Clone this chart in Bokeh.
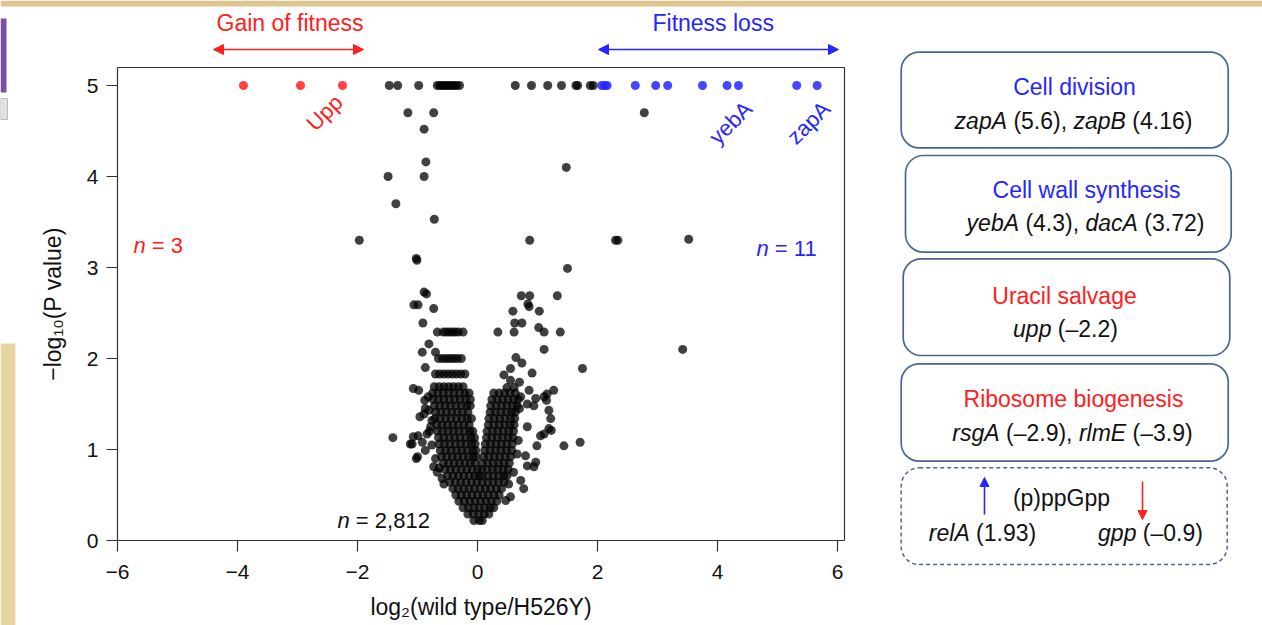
from bokeh.plotting import figure
from bokeh.models import Range1d, FixedTicker, Arrow, NormalHead, BoxAnnotation
from bokeh.core.properties import value
from bokeh.embed import file_html
from bokeh.resources import INLINE

FONT = "Liberation Sans"
RED = "#ff2020"
BLUE = "#2626ff"
BOXC = "#4b6693"
INK = "#111111"

# ---------------- data ----------------
x_ticks = [-6, -4, -2, 0, 2, 4, 6]
x_tick_labels = ["\u22126", "\u22124", "\u22122", "0", "2", "4", "6"]
y_ticks = [0, 1, 2, 3, 4, 5]

# significant genes (capped at -log10 P = 5)
gain_x = [-3.9, -2.95, -2.25]
gain_y = [5, 5, 5]
loss_x = [2.07, 2.12, 2.16, 2.63, 2.97, 3.17, 3.75, 4.16, 4.35, 5.32, 5.66]
loss_y = [5, 5, 5, 5, 5, 5, 5, 5, 5, 5, 5]

# other genes at the cap
cap_black_x = [-1.47, -1.33, -0.98, -0.67, -0.63, -0.59, -0.55, -0.51, -0.47, -0.43,
               -0.39, -0.35, -0.30, 0.63, 0.90, 1.17, 1.40, 1.64, 1.67, 1.88, 1.93]

# scattered genes (x, y)
scatter_pts = [
    (-1.16, 4.70), (-0.73, 4.70), (-0.89, 4.52), (-0.86, 4.16), (-1.49, 4.00), (-0.89, 4.00),
    (-1.36, 3.70), (-0.72, 3.53), (-1.97, 3.30), (0.87, 3.30), (2.30, 3.30), (2.34, 3.30),
    (1.48, 4.10), (2.78, 4.70), (-1.02, 3.10), (-1.01, 3.08), (1.50, 2.99), (3.52, 3.31),
    (3.42, 2.10),
    (-0.89, 2.73), (-0.85, 2.71), (-1.06, 2.59), (-0.99, 2.59), (-0.73, 2.55), (-0.91, 2.39),
    (0.34, 2.29), (0.61, 2.29), (1.11, 2.29), (1.38, 2.29),
    (0.73, 2.69), (0.87, 2.69), (0.84, 2.60), (0.86, 2.57), (1.33, 2.69), (0.59, 2.52),
    (1.03, 2.52), (0.62, 2.39), (0.74, 2.39), (1.02, 2.34),
    (-0.81, 2.16), (-0.92, 2.07), (-0.70, 2.07), (1.11, 2.10), (0.64, 2.01), (0.74, 1.95),
    (-0.87, 1.90), (1.75, 1.89), (0.44, 1.82), (0.55, 1.89), (0.91, 1.84), (0.55, 1.76),
    (0.70, 1.74), (0.49, 1.68), (0.61, 1.68),
    (0.86, 1.65), (0.97, 1.56), (1.16, 1.61), (1.27, 1.65), (1.11, 1.58), (0.83, 1.50),
    (-1.07, 1.67), (-0.98, 1.65), (-0.87, 1.45), (-1.41, 1.13), (-1.07, 1.14), (-0.99, 1.15),
    (-1.09, 1.06), (-0.92, 1.08), (-0.87, 0.99), (-1.02, 0.90), (-0.84, 1.17), (-0.78, 1.25),
    (-0.89, 1.39), (-0.81, 1.43), (-0.76, 1.32), (-0.73, 0.81), (-0.67, 0.75), (-0.59, 0.68),
    (-0.56, 0.62), (-0.96, 1.36), (-0.88, 1.54), (-1.12, 1.06), (-1.00, 0.92),
    (0.83, 1.25), (0.94, 1.48), (1.15, 1.54), (1.19, 1.43), (1.22, 1.34), (1.19, 1.23),
    (1.05, 1.15), (1.11, 1.17), (0.99, 1.04), (0.80, 0.93), (0.83, 0.82), (0.97, 0.86),
    (0.94, 0.81), (0.72, 0.66), (0.77, 0.57), (0.55, 0.48), (0.47, 0.44), (1.44, 1.04),
    (1.71, 1.08), (1.23, 1.21),
    (-0.82, 1.58), (-0.80, 1.20), (-0.76, 1.05), (-0.70, 0.90), (-0.64, 0.80),
    (0.72, 1.58), (0.70, 1.45), (0.68, 1.10), (0.66, 0.95), (0.60, 0.75), (0.52, 0.62),
]

# dense core of the volcano, read row by row: (y, [x ...])
cloud_rows = [
    (2.29, [-0.67, -0.57, -0.52, -0.47, -0.42, -0.37, -0.32, -0.24]),
    (2.00, [-0.65, -0.58, -0.52, -0.46, -0.40, -0.34, -0.27]),
    (1.83, [-0.70, -0.63, -0.56, -0.49, -0.42, -0.35, -0.28, -0.21]),
    (1.69, [-0.72, -0.64, -0.56, -0.48, -0.40, -0.32, -0.24]),
    (1.62, [-0.75, -0.66, -0.57, -0.48, -0.39, -0.30, -0.21, -0.14, 0.27, 0.36, 0.45, 0.54, 0.63]),
    (1.55, [-0.74, -0.65, -0.56, -0.47, -0.38, -0.29, -0.20, -0.12, 0.24, 0.33, 0.42, 0.51, 0.60, 0.68]),
    (1.48, [-0.72, -0.63, -0.54, -0.45, -0.36, -0.27, -0.18, -0.12, 0.22, 0.31, 0.40, 0.49, 0.58, 0.66]),
    (1.41, [-0.70, -0.61, -0.52, -0.43, -0.34, -0.25, -0.16, 0.21, 0.30, 0.39, 0.48, 0.57, 0.63]),
    (1.34, [-0.71, -0.62, -0.53, -0.44, -0.35, -0.26, -0.17, -0.10, 0.19, 0.28, 0.37, 0.46, 0.55, 0.62]),
    (1.27, [-0.68, -0.59, -0.50, -0.41, -0.32, -0.23, -0.14, 0.18, 0.27, 0.36, 0.45, 0.54, 0.61]),
    (1.20, [-0.67, -0.58, -0.49, -0.40, -0.31, -0.22, -0.13, -0.08, 0.16, 0.25, 0.34, 0.43, 0.52, 0.60]),
    (1.13, [-0.65, -0.56, -0.47, -0.38, -0.29, -0.20, -0.11, -0.05, 0.15, 0.24, 0.33, 0.42, 0.51, 0.59]),
    (1.06, [-0.64, -0.55, -0.46, -0.37, -0.28, -0.19, -0.10, -0.04, 0.13, 0.22, 0.31, 0.40, 0.49, 0.58]),
    (0.99, [-0.62, -0.53, -0.44, -0.35, -0.26, -0.17, -0.08, -0.03, 0.12, 0.21, 0.30, 0.39, 0.48, 0.57]),
    (0.92, [-0.60, -0.51, -0.42, -0.33, -0.24, -0.15, -0.07, -0.02, 0.10, 0.19, 0.28, 0.37, 0.46, 0.55]),
    (0.85, [-0.57, -0.48, -0.39, -0.30, -0.21, -0.12, -0.04, 0.08, 0.17, 0.26, 0.35, 0.44, 0.53]),
    (0.78, [-0.54, -0.45, -0.36, -0.27, -0.18, -0.09, 0.00, 0.07, 0.16, 0.25, 0.34, 0.43, 0.51]),
    (0.71, [-0.50, -0.41, -0.32, -0.23, -0.14, -0.05, 0.02, 0.08, 0.17, 0.26, 0.35, 0.44, 0.49]),
    (0.64, [-0.46, -0.37, -0.28, -0.19, -0.10, -0.01, 0.08, 0.17, 0.26, 0.35, 0.44]),
    (0.57, [-0.41, -0.32, -0.23, -0.14, -0.05, 0.04, 0.13, 0.22, 0.31, 0.40]),
    (0.50, [-0.36, -0.27, -0.18, -0.09, 0.00, 0.09, 0.18, 0.27, 0.36]),
    (0.43, [-0.31, -0.22, -0.13, -0.04, 0.05, 0.14, 0.23, 0.32]),
    (0.36, [-0.24, -0.15, -0.06, 0.03, 0.12, 0.21, 0.27]),
    (0.29, [-0.16, -0.07, 0.02, 0.11, 0.19]),
    (0.22, [-0.06, 0.03, 0.08]),
]

gene_labels = ["Upp", "yebA", "zapA"]
gene_label_x = [-2.55, 4.22, 5.52]
gene_label_y = [4.70, 4.59, 4.59]
gene_label_colors = [RED, BLUE, BLUE]

box_titles = ["Cell division", "Cell wall synthesis", "Uracil salvage", "Ribosome biogenesis"]
box_title_colors = [BLUE, BLUE, RED, RED]
box_genes = [
    [("zapA", True), (" (5.6), ", False), ("zapB", True), (" (4.16)", False)],
    [("yebA", True), (" (4.3), ", False), ("dacA", True), (" (3.72)", False)],
    [("upp", True), (" (\u20132.2)", False)],
    [("rsgA", True), (" (\u20132.9), ", False), ("rlmE", True), (" (\u20133.9)", False)],
]
ppgpp_title = "(p)ppGpp"
ppgpp_up = [("relA", True), (" (1.93)", False)]
ppgpp_down = [("gpp", True), (" (\u20130.9)", False)]

# ---------------- screen <-> data helpers (layout only) ----------------
X0, SX, Y0, SY = 477.0, 60.0, 540.0, 91.0


def X(px):
    return (px - X0) / SX


def Y(py):
    return (Y0 - py) / SY


AW = {' ': 278, '(': 333, ')': 333, ',': 278, '.': 278, '\u2013': 556, '\u2212': 584, '=': 584,
      'a': 556, 'b': 556, 'c': 500, 'd': 556, 'e': 556, 'g': 556, 'l': 222, 'm': 833, 'p': 556,
      'r': 333, 's': 500, 'y': 500, 'z': 500, 'i': 222, 'n': 556, 't': 278, 'o': 556, 'h': 556,
      'v': 500, 'w': 722, 'u': 556, 'f': 278, 'k': 500, 'x': 500,
      'A': 667, 'B': 667, 'E': 667, 'G': 778, 'C': 722, 'R': 722, 'U': 722, 'F': 611, 'H': 722,
      'Y': 667, 'P': 667}


def tw(s, size):
    return sum(AW.get(c, 556) for c in s) / 1000.0 * size


def seg_text(fig, px0, py, segs, size, color, align="center"):
    """Place mixed italic/upright pieces side by side (positions in screen px)."""
    total = sum(tw(t, size) for t, _ in segs)
    x = px0 - total / 2 if align == "center" else px0
    for t, it in segs:
        lead = len(t) - len(t.lstrip(' '))
        shown = t.strip(' ')
        sx = x + tw(' ' * lead, size)
        fig.text(x=[X(sx)], y=[Y(py)], text=[shown], text_align="left", text_baseline="middle",
                 text_font=value(FONT), text_font_size=f"{size}px",
                 text_font_style="italic" if it else "normal", text_color=color)
        x += tw(t, size)


def ptext(fig, px, py, s, size, color, align="center", angle=0.0, style="normal"):
    fig.text(x=[X(px)], y=[Y(py)], text=[s], text_align=align, text_baseline="middle",
             angle=angle, text_font=value(FONT), text_font_size=f"{size}px",
             text_font_style=style, text_color=color)


W, H = 1262, 625
p = figure(width=W, height=H, x_range=Range1d(X(0), X(W)), y_range=Range1d(Y(H), Y(0)),
           output_backend="svg", toolbar_location=None, min_border=0)
p.grid.visible = False
p.outline_line_color = None
p.background_fill_color = "white"
p.border_fill_color = "white"

# screenshot edge decoration
p.quad(left=[X(0)], right=[X(W)], top=[Y(0)], bottom=[Y(6)], fill_color="#dcc58e", line_color=None)
p.quad(left=[X(0)], right=[X(15)], top=[Y(343)], bottom=[Y(H)], fill_color="#e8d4a2", line_color=None)
p.quad(left=[X(0)], right=[X(6)], top=[Y(18)], bottom=[Y(92)], fill_color="#7b50a0", line_color=None)
p.quad(left=[X(0)], right=[X(7)], top=[Y(98)], bottom=[Y(119)], fill_color="#e2e2e2", line_color="#bbbbbb")

# axes placed at data locations
XMAX, YMAX = X(844), Y(67)
for ax in (p.xaxis[0], p.yaxis[0]):
    ax.axis_line_color = "#333333"
    ax.axis_line_width = 1.2
    ax.major_tick_line_color = "#333333"
    ax.major_tick_line_width = 1.2
    ax.major_tick_out = 11
    ax.major_tick_in = 0
    ax.minor_tick_line_color = None
    ax.major_label_text_font = FONT
    ax.major_label_text_font_size = "21px"
    ax.major_label_text_color = INK
    ax.axis_label_text_font = FONT
    ax.axis_label_text_font_size = "23px"
    ax.axis_label_text_font_style = "normal"
    ax.axis_label_text_color = INK

p.xaxis.fixed_location = 0
p.xaxis.bounds = (-6, XMAX)
p.xaxis.ticker = FixedTicker(ticks=x_ticks)
p.xaxis.major_label_overrides = {t: l for t, l in zip(x_ticks, x_tick_labels)}
p.xaxis.major_label_standoff = 13
p.xaxis.axis_label = "log\u2082(wild type/H526Y)"
p.xaxis.axis_label_standoff = 12
p.yaxis.fixed_location = -6
p.yaxis.bounds = (0, YMAX)
p.yaxis.ticker = FixedTicker(ticks=y_ticks)
p.yaxis.major_label_standoff = 8
p.yaxis.axis_label = "\u2212log\u2081\u2080(P value)"
p.yaxis.axis_label_standoff = 18

# top and right sides of the plot box
p.line(x=[-6, XMAX, XMAX], y=[YMAX, YMAX, 0], line_color="#333333", line_width=1.2)

cx, cy = [], []
for yv, xs in cloud_rows:
    for xv in xs:
        cx.append(xv)
        cy.append(yv)
sx = [a for a, _ in scatter_pts]
sy = [b for _, b in scatter_pts]

p.scatter(x=cx, y=cy, size=9, fill_color="black", fill_alpha=0.75, line_color=None)
p.scatter(x=sx, y=sy, size=9, fill_color="black", fill_alpha=0.75, line_color=None)
p.scatter(x=cap_black_x, y=[5] * len(cap_black_x), size=9, fill_color="black",
          fill_alpha=0.75, line_color=None)
p.scatter(x=gain_x, y=gain_y, size=9, fill_color=RED, fill_alpha=0.85, line_color=None)
p.scatter(x=loss_x, y=loss_y, size=9, fill_color=BLUE, fill_alpha=0.85, line_color=None)

for t, x, y, c in zip(gene_labels, gene_label_x, gene_label_y, gene_label_colors):
    p.text(x=[x], y=[y], text=[t], angle=0.785398, text_align="center", text_baseline="middle",
           text_font=value(FONT), text_font_size="22px", text_color=c)

seg_text(p, 133, 245, [("n", True), (" = 3", False)], 22, RED, align="left")
seg_text(p, 756, 248, [("n", True), (" = 11", False)], 22, BLUE, align="left")
seg_text(p, 337, 520, [("n", True), (" = 2,812", False)], 22, INK, align="left")

# fitness headings and double arrows
ptext(p, 289.5, 22, "Gain of fitness", 23, RED)
ptext(p, 712.7, 22, "Fitness loss", 23, BLUE)
p.add_layout(Arrow(start=NormalHead(size=10, fill_color=RED, line_color=RED),
                   end=NormalHead(size=10, fill_color=RED, line_color=RED),
                   x_start=X(213), y_start=Y(49), x_end=X(363), y_end=Y(49),
                   line_color=RED, line_width=1.5))
p.add_layout(Arrow(start=NormalHead(size=10, fill_color=BLUE, line_color=BLUE),
                   end=NormalHead(size=10, fill_color=BLUE, line_color=BLUE),
                   x_start=X(598), y_start=Y(49), x_end=X(838), y_end=Y(49),
                   line_color=BLUE, line_width=1.5))

# right-hand boxes (screen px)
box_rects = [(900.7, 1227.7, 51.7, 147.3), (905.0, 1230.7, 155.0, 251.7),
             (902.7, 1229.3, 258.3, 355.0), (900.7, 1227.7, 363.3, 460.7)]
title_pos = [(1074, 86), (1086, 189), (1064, 295), (1073, 398)]
gene_pos = [(1073, 120), (1085, 222), (1065, 328), (1072, 432)]

for (l, r, t, bt), title, tc, (tx, ty), genes, (gx, gy) in zip(
        box_rects, box_titles, box_title_colors, title_pos, box_genes, gene_pos):
    p.add_layout(BoxAnnotation(left=X(l), right=X(r), top=Y(t), bottom=Y(bt), fill_color=None,
                               line_color=BOXC, line_alpha=1.0, line_width=1.7, border_radius=18))
    ptext(p, tx, ty, title, 23, tc)
    seg_text(p, gx, gy, genes, 23, INK)

p.add_layout(BoxAnnotation(left=X(900.7), right=X(1226.7), top=Y(467.3), bottom=Y(564.0),
                           fill_color=None, line_color=BOXC, line_alpha=1.0, line_width=1.5,
                           line_dash="4 3", border_radius=18))
ptext(p, 1061, 497, ppgpp_title, 23, INK)
seg_text(p, 982, 532, ppgpp_up, 23, INK)
seg_text(p, 1150, 532, ppgpp_down, 23, INK)
p.add_layout(Arrow(end=NormalHead(size=9, fill_color=BLUE, line_color=BLUE),
                   x_start=X(984), y_start=Y(514), x_end=X(984), y_end=Y(477),
                   line_color=BLUE, line_width=1.6))
p.add_layout(Arrow(end=NormalHead(size=9, fill_color=RED, line_color=RED),
                   x_start=X(1142), y_start=Y(481), x_end=X(1142), y_end=Y(519),
                   line_color=RED, line_width=1.6))

open("out.html", "w").write(file_html(p, INLINE))
